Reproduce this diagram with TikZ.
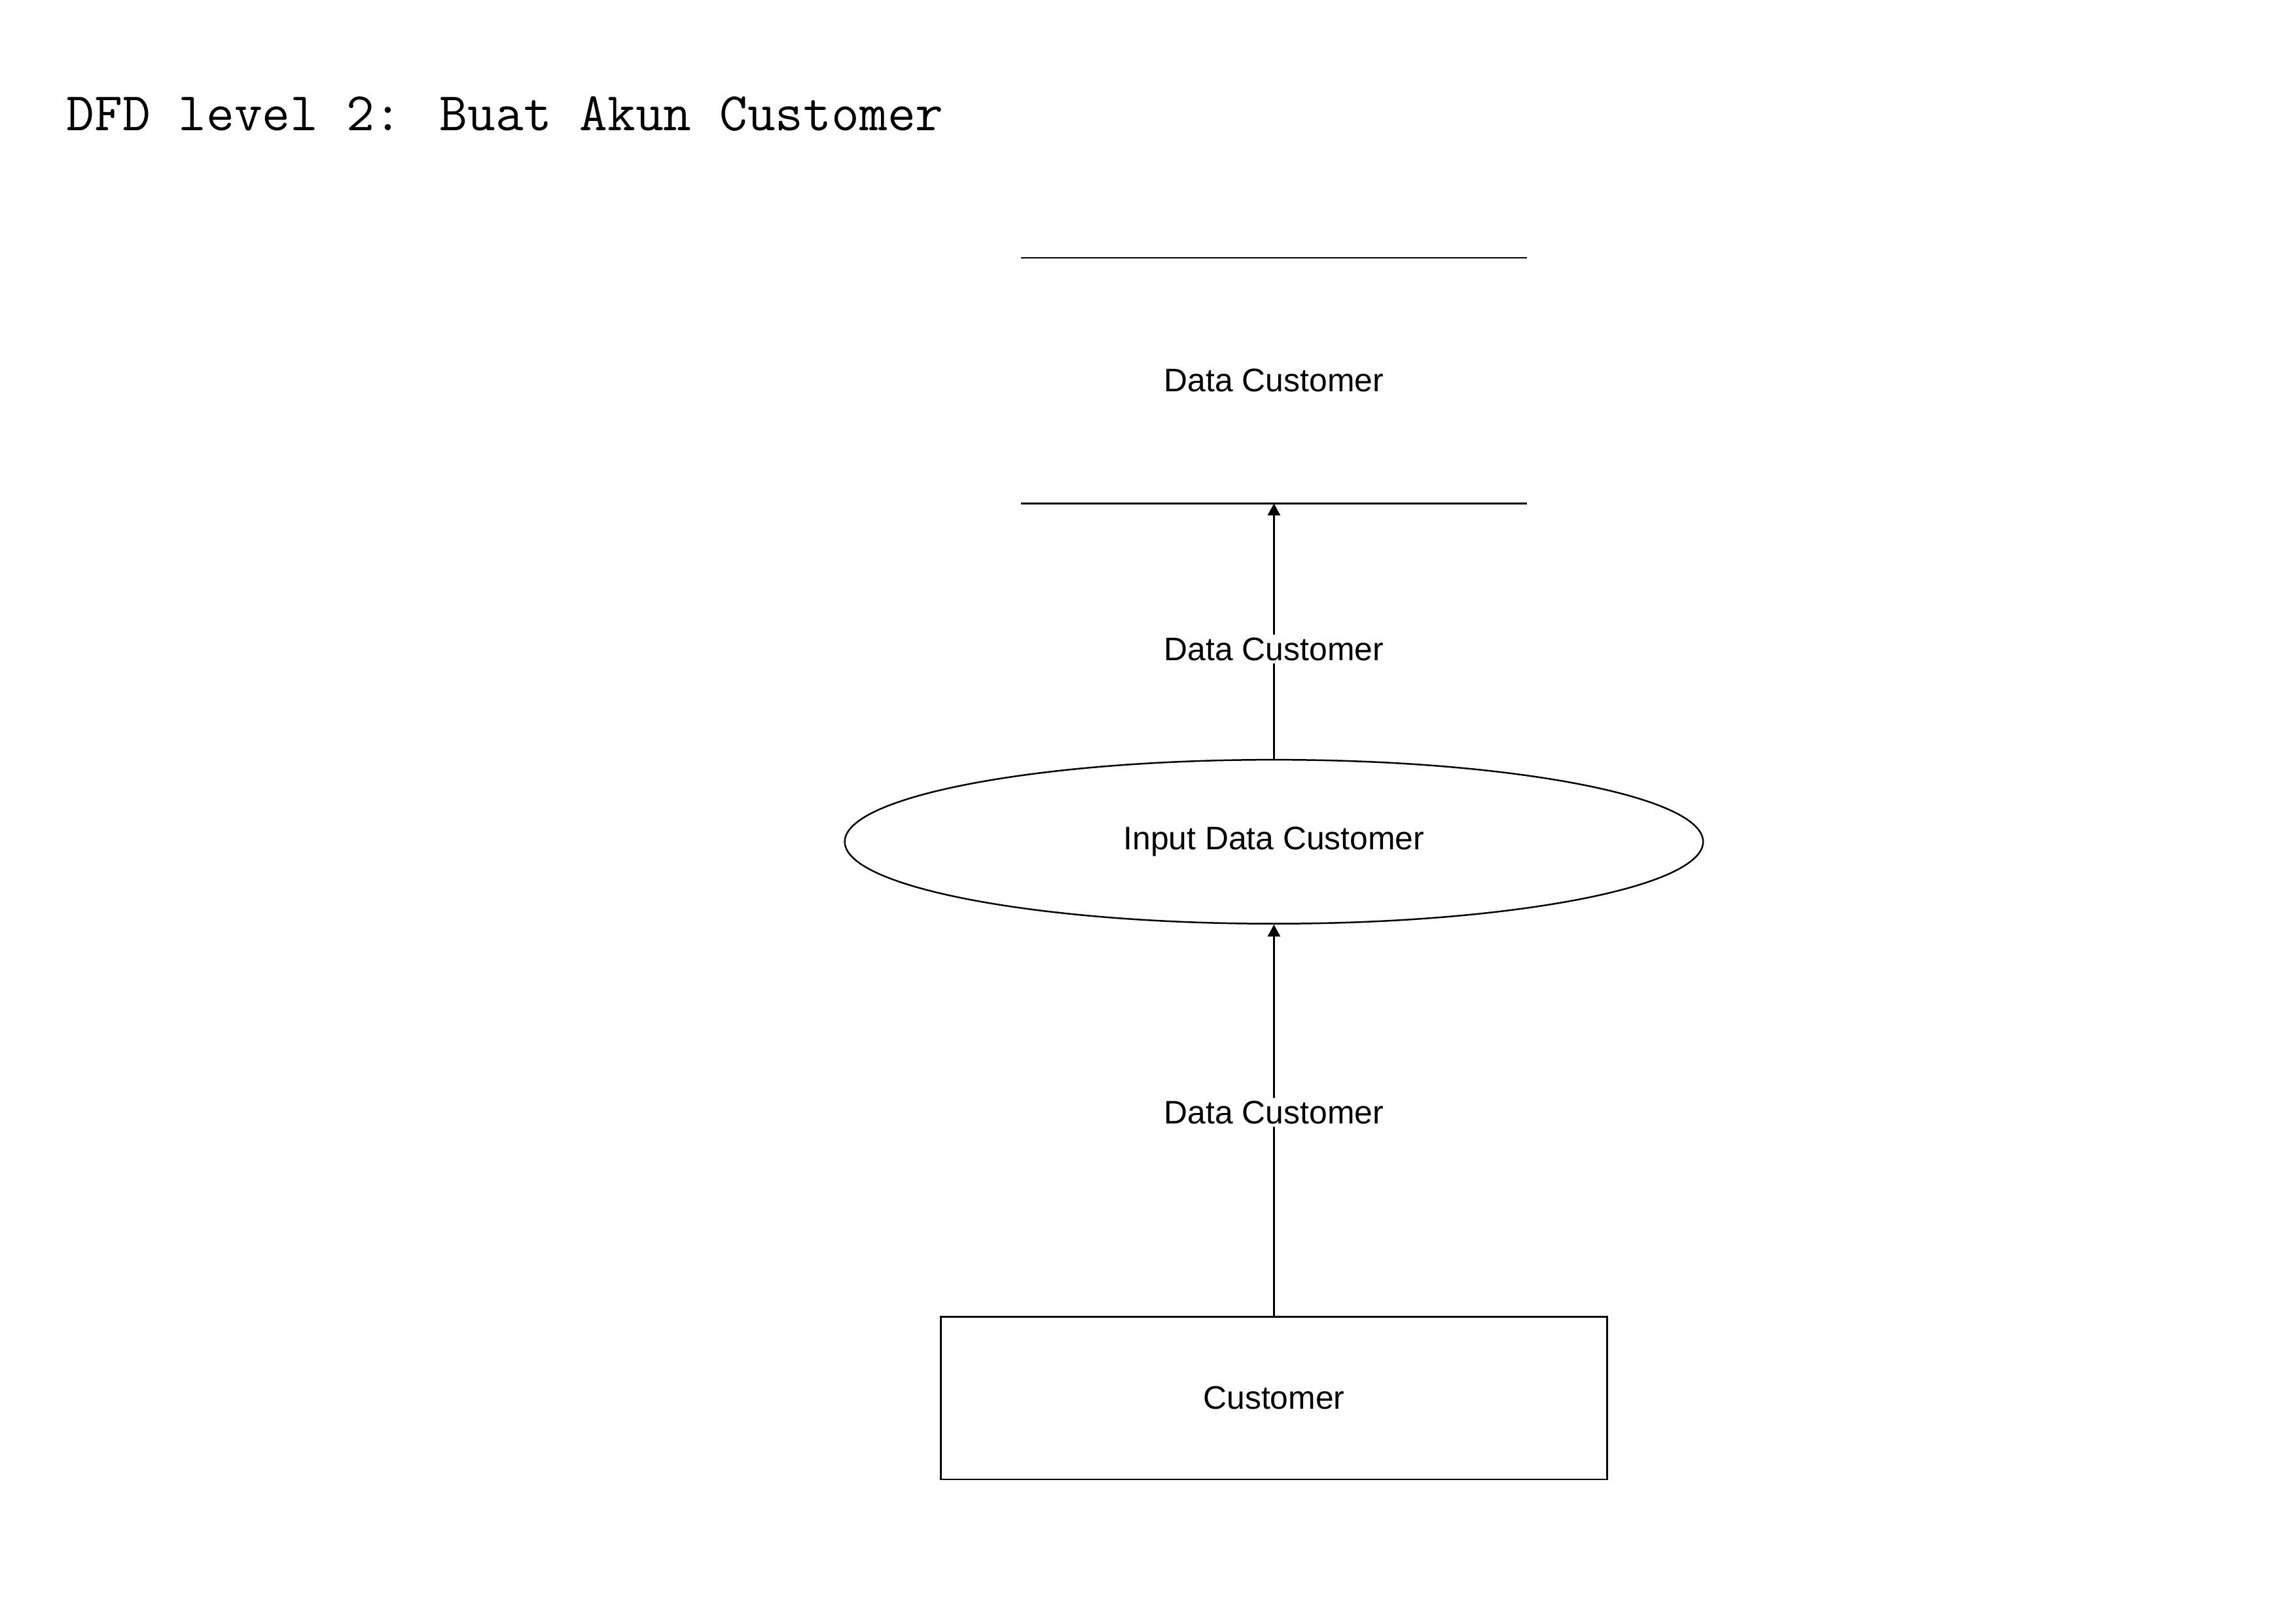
\documentclass[tikz,border=0pt]{standalone}
\usepackage{fontspec}
\setmainfont{Liberation Sans}
\usetikzlibrary{arrows.meta,shapes.geometric}

\begin{document}
\begin{tikzpicture}[x=0.018941cm,y=-0.018941cm,
    font=\fontsize{12}{14}\selectfont,
    flow/.style ={draw, line width=0.6pt, -{Triangle[width=4.6pt,length=4.4pt]}},
    datastore/.style ={minimum width=6.535cm, minimum height=3.163cm, inner sep=0pt},
    process/.style ={ellipse, draw, line width=0.6pt, inner sep=0pt, minimum width=11.10cm, minimum height=2.121cm},
    entity/.style ={rectangle, draw, line width=0.6pt, inner sep=0pt, minimum width=8.618cm, minimum height=2.102cm},
    flowlabel/.style ={fill=white, inner sep=1pt}]
   \useasboundingbox (0,0) rectangle (1568,1109);
   \node[anchor=base west, inner sep=0pt, font=\ttfamily\fontsize{20}{24}\selectfont] (title) at (45,89) {DFD level 2: Buat Akun Customer};
   \node[datastore] (store) at (870,260) {Data Customer};
   \node[process] (input) at (870,575) {Input Data Customer};
   \node[entity] (cust) at (870,955) {Customer};
   \draw[line width=0.6pt] (store.north west) -- (store.north east);
   \draw[line width=0.6pt] (store.south west) -- (store.south east);
   \draw[flow] (input.north) -- node[flowlabel, pos=0.43] {Data Customer} (store.south);
   \draw[flow] (cust.north) -- node[flowlabel, pos=0.52] {Data Customer} (input.south);
 \end{tikzpicture}
\end{document}
